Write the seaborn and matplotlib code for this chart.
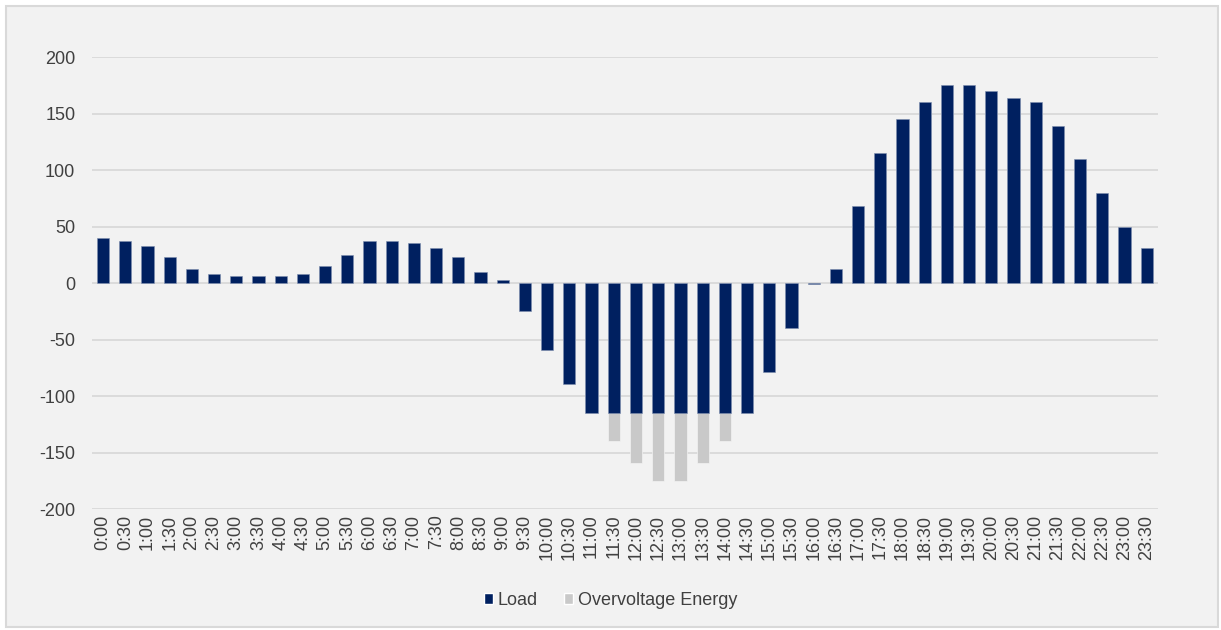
import matplotlib
matplotlib.use("Agg")
import matplotlib.pyplot as plt
from matplotlib.patches import Rectangle, Patch
import seaborn as sns
import pandas as pd

# half-hour slots
times = [f"{h}:{m:02d}" for h in range(24) for m in (0, 30)]

load = [40, 37, 33, 23, 12, 8, 6, 6, 6, 8,
        15, 25, 37, 37, 35, 31, 23, 10, 3, -25,
        -59, -89, -115, -115, -115, -115, -115, -115, -115, -115,
        -79, -40, -1, 12, 68, 115, 145, 160, 175, 175,
        170, 164, 160, 139, 110, 80, 50, 31]

overvoltage = [0] * 23 + [-25, -44, -60, -60, -44, -25] + [0] * 19

navy = "#002060"
grey = "#C9C9C9"
bg = "#F2F2F2"

df = pd.DataFrame({"time": times, "load": load, "overvoltage": overvoltage})
df["total"] = df["load"] + df["overvoltage"]

sns.set_theme(style="white")
plt.rcParams["font.family"] = ["Liberation Sans", "DejaVu Sans"]
plt.rcParams["axes.unicode_minus"] = False

fig = plt.figure(figsize=(12.21, 6.3), dpi=100)
fig.patch.set_facecolor("white")
fig.patches.append(Rectangle((6 / 1221, 3 / 630), 1212 / 1221, 621 / 630,
                             transform=fig.transFigure, facecolor=bg,
                             edgecolor="#D9D9D9", linewidth=1.5, zorder=-10))

ax = fig.add_axes([0.0753, 0.192, 0.873, 0.7175])
ax.set_facecolor(bg)

# grey stacked part first, load drawn over it
sns.barplot(data=df, x="time", y="total", color=grey, width=0.55,
            saturation=1, edgecolor=bg, linewidth=0.5, ax=ax, zorder=3)
sns.barplot(data=df, x="time", y="load", color=navy, width=0.55,
            saturation=1, edgecolor="#8090B0", linewidth=0.4, ax=ax, zorder=4)

ax.set_ylim(-200, 200)
ax.set_yticks(range(-200, 201, 50))
ax.set_xlim(-0.5, len(times) - 0.5)
ax.yaxis.grid(True, color="#D9D9D9", linewidth=1.3, zorder=0)
ax.set_axisbelow(True)
for s in ax.spines.values():
    s.set_visible(False)
ax.set_xlabel("")
ax.set_ylabel("")
ax.tick_params(axis="both", length=0, labelsize=13, labelcolor="#404040")
ax.tick_params(axis="y", pad=12)
ax.tick_params(axis="x", pad=4)
plt.setp(ax.get_xticklabels(), rotation=90)

handles = [Patch(facecolor=navy, label="Load"),
           Patch(facecolor=grey, label="Overvoltage Energy")]
fig.legend(handles=handles, loc="center", bbox_to_anchor=(0.5, 0.047), ncol=2,
           frameon=False, fontsize=13, handlelength=0.5, handleheight=0.5,
           handletextpad=0.25, columnspacing=1.5, labelcolor="#404040")

fig.savefig("out.png", dpi=100, facecolor="white")
